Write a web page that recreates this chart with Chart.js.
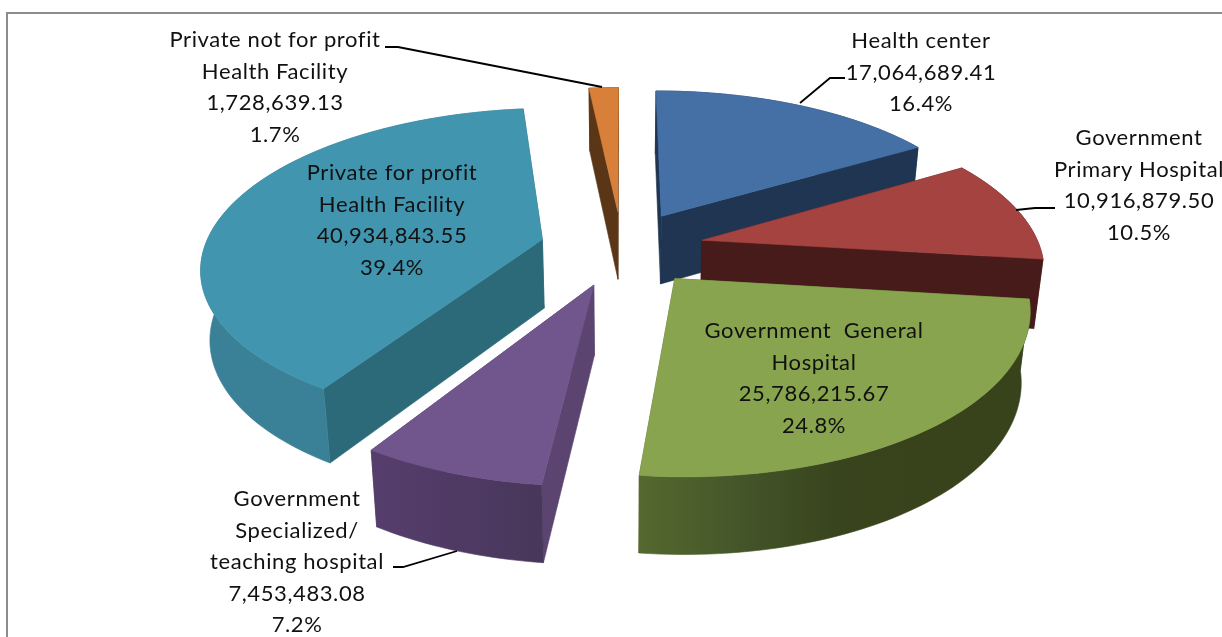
<!DOCTYPE html>
<html>
<head>
<meta charset="utf-8">
<style>html,body{margin:0;padding:0;background:#fff;overflow:hidden}canvas{display:block}</style>
<script src="https://cdn.jsdelivr.net/npm/chart.js@4"></script>
</head>
<body>
<canvas id="c" width="1222" height="637"></canvas>
<script>
const categories = [
  'Health center',
  'Government\nPrimary Hospital',
  'Government  General\nHospital',
  'Government\nSpecialized/\nteaching hospital',
  'Private for profit\nHealth Facility',
  'Private not for profit\nHealth Facility'
];
const values = [17064689.41, 10916879.50, 25786215.67, 7453483.08, 40934843.55, 1728639.13];

const topColors  = ['#4570A6', '#A54341', '#88A44E', '#70568C', '#4295AE', '#D88039'];
const sideColors = ['#1F3552', '#461B19', '#55692F', '#5C4470', '#2D6A79', '#5A3617'];
const wallStops  = [
  ['#1F3552', '#1F3552'],
  ['#461B19', '#461B19'],
  ['#55682E', '#45562A', '#38441D', '#38431C', '#38431C'],
  ['#563E6C', '#4F3A64', '#48375A'],
  ['#3A8197', '#3A8197', '#367C91', '#33778B'],
  ['#5A3617', '#5A3617']
];
// label layout: centre x, centre y of first line
const labelX = [921, 1139, 814, 297, 392, 275];
const labelY = [41, 138, 331, 499, 173, 40];
const lineGap = 31.5;
const leaders = [
  [[845, 78], [830, 78], [800, 103]],
  [[1055, 208], [1035, 208], [1016, 210]],
  [],
  [[393, 567], [403, 567], [457, 551]],
  [],
  [[385, 47], [398, 47], [602, 87]]
];

// view of the pie plane
const view = {cx: 622, cy: 248, rx: 338, ry: 155, q: 0.162, explode: 0.244, sx: 0.978, sy: 1.038, depth: 69};

function project(u, v) {
  const d = 1 - view.q * v;
  return [view.cx + view.rx * u / d, view.cy + view.ry * v / d];
}
function lower(p) {
  return [view.cx + (p[0] - view.cx) * view.sx, view.cy + (p[1] - view.cy) * view.sy + view.depth];
}
function poly(ctx, pts, fill) {
  ctx.beginPath();
  pts.forEach((p, i) => i ? ctx.lineTo(p[0], p[1]) : ctx.moveTo(p[0], p[1]));
  ctx.closePath();
  ctx.fillStyle = fill;
  ctx.strokeStyle = fill;
  ctx.lineWidth = 0.6;
  ctx.fill();
  ctx.stroke();
}
function sliceGeometry(arc) {
  const a0 = arc.startAngle, a1 = arc.endAngle, mid = (a0 + a1) / 2;
  const ox = view.explode * Math.cos(mid), oy = view.explode * Math.sin(mid);
  const rim = [];
  const steps = Math.max(4, Math.ceil((a1 - a0) * 40));
  for (let i = 0; i <= steps; i++) {
    const a = a0 + (a1 - a0) * i / steps;
    rim.push(project(ox + Math.cos(a), oy + Math.sin(a)));
  }
  return {apex: project(ox, oy), rim, mid};
}

const pie3d = {
  id: 'pie3d',
  beforeDraw(chart) {
    const ctx = chart.ctx;
    ctx.save();
    ctx.fillStyle = '#fff';
    ctx.fillRect(0, 0, chart.width, chart.height);
    ctx.strokeStyle = '#8C8C8C';
    ctx.lineWidth = 2;
    ctx.strokeRect(7, 13, chart.width + 20, chart.height + 20);
    ctx.restore();
  },
  beforeDatasetDraw() { return false; },
  afterDatasetsDraw(chart) {
    const ctx = chart.ctx, arcs = chart.getDatasetMeta(0).data;
    const order = arcs.map((a, i) => i).sort((i, j) =>
      Math.sin((arcs[i].startAngle + arcs[i].endAngle) / 2) - Math.sin((arcs[j].startAngle + arcs[j].endAngle) / 2));
    ctx.save();
    order.forEach(i => {
      const g = sliceGeometry(arcs[i]);
      const first = g.rim[0], last = g.rim[g.rim.length - 1];
      const lowRim = g.rim.map(lower);
      // radial walls
      poly(ctx, [g.apex, first, lower(first), lower(g.apex)], sideColors[i]);
      poly(ctx, [g.apex, last, lower(last), lower(g.apex)], sideColors[i]);
      // curved outer wall
      const xs = g.rim.map(p => p[0]);
      const grad = ctx.createLinearGradient(Math.min(...xs), 0, Math.max(...xs), 0);
      const st = wallStops[i];
      st.forEach((c, k) => grad.addColorStop(k / (st.length - 1), c));
      poly(ctx, g.rim.concat(lowRim.slice().reverse()), grad);
      // top face
      poly(ctx, [g.apex].concat(g.rim), arcs[i].options.backgroundColor);
    });
    // leader lines
    ctx.strokeStyle = '#000';
    ctx.lineWidth = 1.8;
    leaders.forEach(l => {
      if (!l.length) return;
      ctx.beginPath();
      l.forEach((p, k) => k ? ctx.lineTo(p[0], p[1]) : ctx.moveTo(p[0], p[1]));
      ctx.stroke();
    });
    // data labels
    const total = values.reduce((s, v) => s + v, 0);
    ctx.font = '22px Lato, "Open Sans", sans-serif';
    ctx.fillStyle = '#111';
    ctx.textAlign = 'center';
    ctx.textBaseline = 'middle';
    ctx.letterSpacing = '0.6px';
    categories.forEach((name, i) => {
      const lines = name.split('\n').concat([
        values[i].toLocaleString('en-US', {minimumFractionDigits: 2, maximumFractionDigits: 2}),
        (values[i] / total * 100).toFixed(1) + '%'
      ]);
      lines.forEach((t, k) => ctx.fillText(t, labelX[i], labelY[i] + k * lineGap));
    });
    ctx.restore();
  }
};

new Chart(document.getElementById('c'), {
  type: 'pie',
  data: {
    labels: categories,
    datasets: [{data: values, backgroundColor: topColors, borderWidth: 0}]
  },
  options: {
    responsive: false,
    animation: false,
    plugins: {legend: {display: false}, tooltip: {enabled: false}, title: {display: false}}
  },
  plugins: [pie3d]
});
</script>
</body>
</html>
